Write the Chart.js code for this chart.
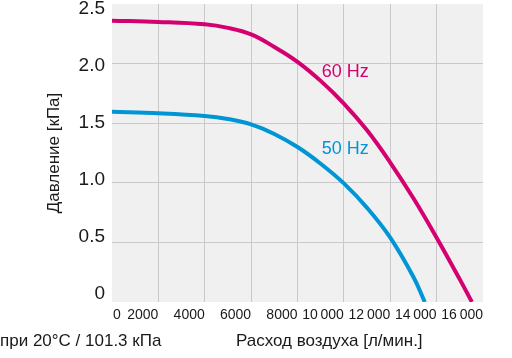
<!DOCTYPE html>
<html lang="ru">
<head>
    <meta charset="UTF-8">
    <title>Давление / расход воздуха</title>
    <script src="https://cdn.jsdelivr.net/npm/chart.js"></script>
    <style>
        html, body { margin: 0; padding: 0; background: #fff; }
        .chart-container { position: relative; width: 512px; height: 358px; }
    </style>
</head>
<body>
    <div class="chart-container">
        <canvas id="fanChart"></canvas>
    </div>

    <script>
        // values
        const flow60 = [0, 2000, 4000, 5000, 6000, 7000, 8000, 9000, 10000, 11000, 12000, 13000, 14000, 15000, 15520];
        const press60 = [2.36, 2.35, 2.33, 2.3, 2.245, 2.14, 2.015, 1.855, 1.665, 1.44, 1.17, 0.87, 0.54, 0.19, 0];
        const flow50 = [0, 2000, 4000, 5000, 6000, 7000, 8000, 9000, 10000, 11000, 12000, 13000, 13490];
        const press50 = [1.596, 1.583, 1.56, 1.535, 1.49, 1.41, 1.3, 1.16, 0.995, 0.79, 0.54, 0.21, 0];

        const seriesNames = ['60 Hz', '50 Hz'];
        const xTickLabels = ['0', '2000', '4000', '6000', '8000', '10\u2009000', '12\u2009000', '14\u2009000', '16\u2009000'];
        const yTickLabels = ['0', '0.5', '1.0', '1.5', '2.0', '2.5'];

        const magenta = '#d5006f';
        const blue = '#0096d6';
        const textColor = '#1a1a1a';
        const fontFamily = "'Liberation Sans', Arial, sans-serif";

        function toPoints(xs, ys) {
            return xs.map(function(x, i) { return { x: x, y: ys[i] }; });
        }

        // grey plot background, tick labels, curve labels and the bottom captions
        const extras = {
            id: 'extras',
            beforeDraw: function(chart) {
                const a = chart.chartArea;
                const ctx = chart.ctx;
                ctx.save();
                ctx.fillStyle = '#f0f0f0';
                ctx.fillRect(a.left, a.top, a.right - a.left, a.bottom - a.top);
                ctx.restore();
            },
            afterDraw: function(chart) {
                const ctx = chart.ctx;
                const xs = chart.scales.x, ys = chart.scales.y;
                const a = chart.chartArea;
                ctx.save();
                ctx.fillStyle = textColor;

                // y labels sit on a slightly tighter spacing than the grid in the original
                ctx.font = '19px ' + fontFamily;
                ctx.textAlign = 'right';
                ctx.textBaseline = 'middle';
                ys.ticks.forEach(function(t, i) {
                    const p = ys.getPixelForValue(t.value);
                    ctx.fillText(yTickLabels[i], a.left - 7, a.top + 4.5 + (p - a.top) * 0.958);
                });

                // x labels end at their grid line, the first one starts at the axis
                ctx.font = '14px ' + fontFamily;
                xs.ticks.forEach(function(t, i) {
                    const p = xs.getPixelForValue(t.value);
                    if (i === 0) {
                        ctx.textAlign = 'left';
                        ctx.fillText(xTickLabels[i], p + 1, a.bottom + 13);
                    } else {
                        ctx.textAlign = 'right';
                        ctx.fillText(xTickLabels[i], p, a.bottom + 13);
                    }
                });

                ctx.font = '18px ' + fontFamily;
                ctx.textAlign = 'left';
                ctx.fillStyle = magenta;
                ctx.fillText(seriesNames[0], xs.getPixelForValue(9050), ys.getPixelForValue(1.93));
                ctx.fillStyle = blue;
                ctx.fillText(seriesNames[1], xs.getPixelForValue(9050), ys.getPixelForValue(1.28));

                ctx.font = '17px ' + fontFamily;
                ctx.fillStyle = textColor;
                ctx.textBaseline = 'alphabetic';
                ctx.fillText('при 20°C / 101.3 кПа', 0, 346);
                ctx.fillText('Расход воздуха [л/мин.]', 236, 346);
                ctx.restore();
            }
        };

        function edgeless(ctx) {
            const s = ctx.scale;
            if (ctx.tick && (ctx.tick.value === s.min || ctx.tick.value === s.max)) {
                return 'rgba(0,0,0,0)';
            }
            return '#c9c9c9';
        }

        new Chart(document.getElementById('fanChart').getContext('2d'), {
            type: 'line',
            data: {
                datasets: [
                    {
                        label: seriesNames[0],
                        data: toPoints(flow60, press60),
                        borderColor: magenta,
                        borderWidth: 4,
                        pointRadius: 0,
                        tension: 0.4,
                        fill: false
                    },
                    {
                        label: seriesNames[1],
                        data: toPoints(flow50, press50),
                        borderColor: blue,
                        borderWidth: 4,
                        pointRadius: 0,
                        tension: 0.4,
                        fill: false
                    }
                ]
            },
            options: {
                responsive: true,
                maintainAspectRatio: false,
                animation: false,
                layout: { padding: { top: 4, right: 29, bottom: 28, left: 0 } },
                plugins: {
                    legend: { display: false },
                    tooltip: { enabled: false }
                },
                scales: {
                    x: {
                        type: 'linear',
                        min: 0,
                        max: 16000,
                        border: { display: false },
                        grid: { color: edgeless, drawTicks: false, lineWidth: 1 },
                        ticks: { stepSize: 2000, display: false, autoSkip: false },
                        afterFit: function(scale) {
                            scale.height = 28;
                            scale.paddingLeft = 0;
                            scale.paddingRight = 0;
                        }
                    },
                    y: {
                        min: 0,
                        max: 2.5,
                        border: { display: false },
                        grid: { color: edgeless, drawTicks: false, lineWidth: 1 },
                        ticks: { stepSize: 0.5, display: false },
                        title: {
                            display: true,
                            text: 'Давление [кПа]',
                            color: textColor,
                            font: { family: fontFamily, size: 17 },
                            padding: { top: 44, bottom: 0 }
                        },
                        afterFit: function(scale) {
                            scale.width = 112;
                            scale.paddingTop = 0;
                            scale.paddingBottom = 0;
                        }
                    }
                }
            },
            plugins: [extras]
        });
    </script>
</body>
</html>
